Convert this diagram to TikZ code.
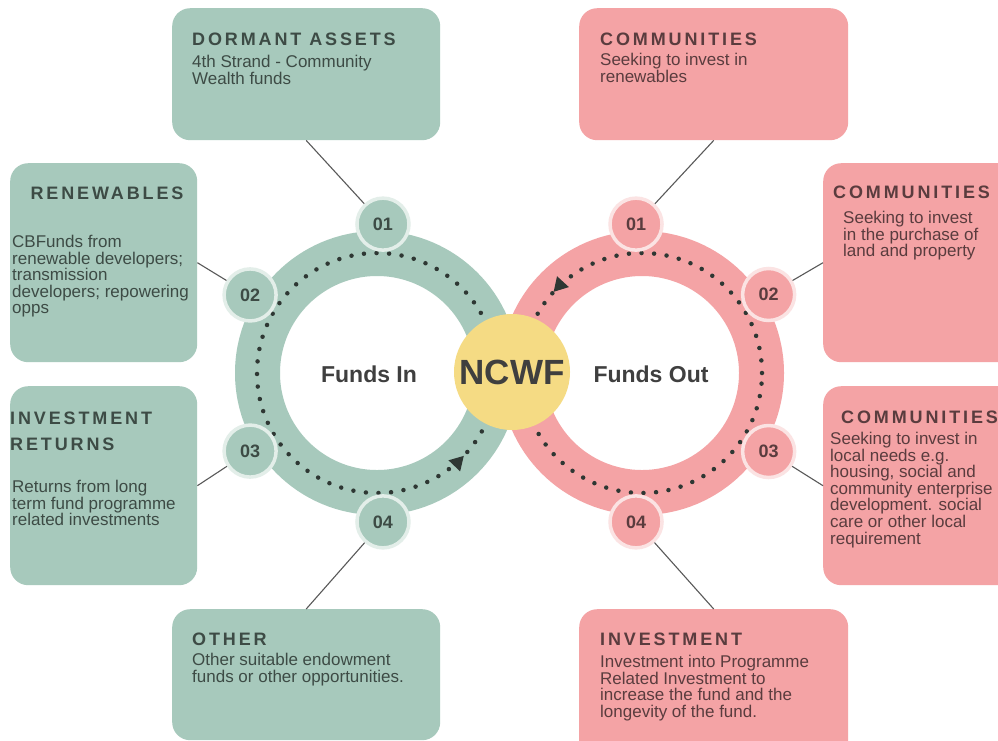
\documentclass[tikz,border=0pt]{standalone}
\usepackage{fontspec}
\setmainfont{Liberation Sans}
\newfontfamily\spaced[LetterSpace=16]{Liberation Sans}
\usetikzlibrary{decorations.markings,arrows.meta}
\definecolor{tealc}{HTML}{A7C9BC}
\definecolor{tealrim}{HTML}{E3EEE9}
\definecolor{pinkc}{HTML}{F4A3A5}
\definecolor{pinkrim}{HTML}{FBE3E3}
\definecolor{sunc}{HTML}{F5DB84}
\definecolor{inkteal}{HTML}{3D4B45}
\definecolor{inkpink}{HTML}{5A3C3E}
\definecolor{inkmid}{HTML}{3F3F3F}
\definecolor{dotc}{HTML}{2E3733}
\tikzset{
RING/.style={draw=#1, line width=45pt},
LOOP/.style={draw=dotc, line width=4.5pt, line cap=round, dash pattern=on 0pt off 12.6pt,
  decoration={markings, mark=at position #1 with {\arrow[fill=dotc,solid]{Triangle[length=14pt,width=15pt]}}},
  postaction={decorate}},
NUMIN/.style={circle, minimum size=52pt, inner sep=0pt, fill=tealc, draw=tealrim, line width=3.5pt,
  text=inkteal, font=\bfseries\fontsize{18}{18}\selectfont},
NUMOUT/.style={NUMIN, fill=pinkc, draw=pinkrim, text=inkpink},
INBOX/.style={rectangle, rounded corners=18pt, fill=tealc, inner sep=0pt, anchor=north west},
OUTBOX/.style={INBOX, fill=pinkc},
HEAD/.style={anchor=base west, inner sep=0pt, font=\spaced\bfseries\fontsize{18}{26}\selectfont},
BODY/.style={anchor=north west, inner sep=0pt, align=left, font=\fontsize{17}{16.6}\selectfont},
LINK/.style={draw=black!65, line width=1.1pt},
}
\begin{document}
\begin{tikzpicture}
[x=1pt, y=1pt]
	\useasboundingbox[fill=white] (0,0) rectangle (998,-740);
	\coordinate (lc) at (377,-373);
	\coordinate (rc) at (642,-373);
	\path[RING=tealc] (lc) circle (119.5);
	\path[RING=pinkc] (rc) circle (119.5);
	\path[LOOP=0.879] (lc) circle (120);
	\path[LOOP=0.382] (rc) circle (120);
	\node[circle, fill=sunc, minimum size=116pt, inner sep=0pt, text=inkmid,
	  font=\bfseries\fontsize{35}{35}\selectfont] (ncwf) at (512,-372) {NCWF};
	\node[text=inkmid, font=\bfseries\fontsize{23}{23}\selectfont] (fin) at (369,-374) {Funds In};
	\node[text=inkmid, font=\bfseries\fontsize{23}{23}\selectfont] (fout) at (651,-374) {Funds Out};

	\node[NUMIN] (in1) at ([shift={(87.7:149)}]lc) {01};
	\node[NUMIN] (in2) at ([shift={(148.4:149)}]lc) {02};
	\node[NUMIN] (in3) at ([shift={(211.6:149)}]lc) {03};
	\node[NUMIN] (in4) at ([shift={(272.3:149)}]lc) {04};
	\node[NUMOUT] (out1) at ([shift={(92.3:149)}]rc) {01};
	\node[NUMOUT] (out2) at ([shift={(31.8:149)}]rc) {02};
	\node[NUMOUT] (out3) at ([shift={(-31.8:149)}]rc) {03};
	\node[NUMOUT] (out4) at ([shift={(267.7:149)}]rc) {04};

	\node[INBOX, minimum width=268pt, minimum height=132pt] (dormant) at (172,-8) {};
	\node[INBOX, minimum width=187pt, minimum height=199pt] (renew) at (10,-163) {};
	\node[INBOX, minimum width=187pt, minimum height=199pt] (returns) at (10,-386) {};
	\node[INBOX, minimum width=268pt, minimum height=131pt] (other) at (172,-609) {};
	\node[OUTBOX, minimum width=269pt, minimum height=132pt] (comm1) at (579,-8) {};
	\node[OUTBOX, minimum width=200pt, minimum height=199pt] (comm2) at (823,-163) {};
	\node[OUTBOX, minimum width=200pt, minimum height=199pt] (comm3) at (823,-386) {};
	\node[OUTBOX, minimum width=269pt, minimum height=150pt] (invest) at (579,-609) {};

	\path[LINK] (dormant.south) -- (in1);
	\path[LINK] (renew.east) -- (in2);
	\path[LINK] (returns.east) -- (in3);
	\path[LINK] (other.north) -- (in4);
	\path[LINK] (comm1.south) -- (out1);
	\path[LINK] (comm2.west) -- (out2);
	\path[LINK] (comm3.west) -- (out3);
	\path[LINK] (invest.north) -- (out4);

	\node[HEAD, text=inkteal] (dormanthead) at (192,-45) {DORMANT ASSETS};
	\node[BODY, text=inkteal] (dormanttext) at (192,-55) {4th Strand - Community\\Wealth funds};
	\node[HEAD, text=inkteal, anchor=base] (renewhead) at (107,-199) {RENEWABLES};
	\node[BODY, text=inkteal] (renewtext) at (12,-235) {CBFunds from\\renewable developers;\\transmission\\developers; repowering\\opps};
	\node[HEAD, text=inkteal, anchor=north west, align=left] (returnshead) at (10,-412) {INVESTMENT\\RETURNS};
	\node[BODY, text=inkteal] (returnstext) at (12,-480) {Returns from long\\term fund programme\\related investments};
	\node[HEAD, text=inkteal] (otherhead) at (192,-645) {OTHER};
	\node[BODY, text=inkteal] (othertext) at (192,-653) {Other suitable endowment\\funds or other opportunities.};

	\node[HEAD, text=inkpink] (comm1head) at (600,-45) {COMMUNITIES};
	\node[BODY, text=inkpink] (comm1text) at (600,-53) {Seeking to invest in\\renewables};
	\node[HEAD, text=inkpink] (comm2head) at (833,-198) {COMMUNITIES};
	\node[BODY, text=inkpink] (comm2text) at (843,-211) {Seeking to invest\\in the purchase of\\land and property};
	\node[HEAD, text=inkpink] (comm3head) at (841,-423) {COMMUNITIES};
	\node[BODY, text=inkpink] (comm3text) at (830,-432) {Seeking to invest in\\local needs e.g.\\housing, social and\\community enterprise\\development. social\\care or other local\\requirement};
	\node[HEAD, text=inkpink] (investhead) at (600,-645) {INVESTMENT};
	\node[BODY, text=inkpink] (investtext) at (600,-655) {Investment into Programme\\Related Investment to\\increase the fund and the\\longevity of the fund.};
\end{tikzpicture}
\end{document}
